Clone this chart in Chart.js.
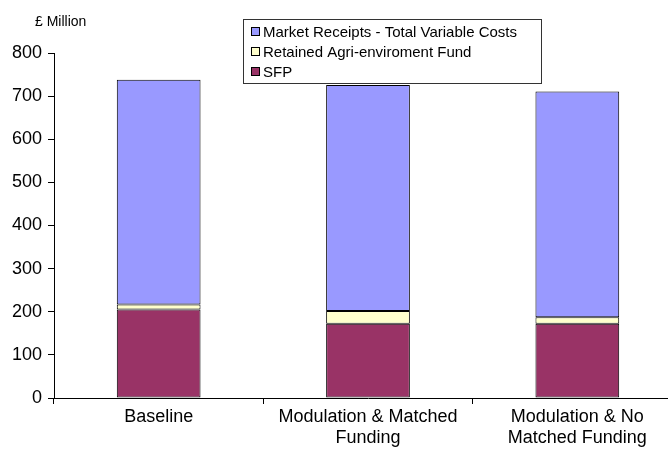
<!DOCTYPE html>
<html>
<head>
<meta charset="utf-8">
<script src="https://cdn.jsdelivr.net/npm/chart.js@4.4.0/dist/chart.umd.min.js"></script>
<style>
    html, body { margin: 0; padding: 0; background: #fff; overflow: hidden; }
    #wrap { position: relative; width: 682px; height: 455px; }
</style>
</head>
<body>
<div id="wrap"><canvas id="myChart" width="682" height="455"></canvas></div>
<script>
const categories = ['Baseline', ['Modulation & Matched', 'Funding'], ['Modulation & No', 'Matched Funding']];
const sfp = [205, 172, 172];
const retainedFund = [12, 30, 15];
const marketReceipts = [521, 524, 524];
const yTicks = [0, 100, 200, 300, 400, 500, 600, 700, 800];

const FONT = "'Liberation Sans', Arial, sans-serif";

// legend box drawn over the plot, like the original
const boxLegend = {
    id: 'boxLegend',
    afterDraw(chart) {
        const ctx = chart.ctx;
        const x = 243.5, y = 19.5, w = 298, h = 64;
        ctx.save();
        ctx.fillStyle = '#fff';
        ctx.fillRect(x, y, w, h);
        ctx.strokeStyle = '#333';
        ctx.lineWidth = 1;
        ctx.strokeRect(x, y, w, h);
        ctx.font = '15px ' + FONT;
        ctx.textBaseline = 'middle';
        const items = chart.data.datasets.slice().reverse();
        items.forEach((ds, i) => {
            const cy = 32 + i * 20;
            ctx.fillStyle = ds.backgroundColor;
            ctx.fillRect(251.5, cy - 4.5, 8, 8);
            ctx.strokeStyle = '#000';
            ctx.strokeRect(251.5, cy - 4.5, 8, 8);
            ctx.fillStyle = '#000';
            ctx.fillText(ds.label, 263, cy + 1);
        });
        ctx.font = '14px ' + FONT;
        ctx.fillText('£ Million', 35, 22);
        ctx.restore();
    }
};

new Chart(document.getElementById('myChart'), {
    type: 'bar',
    data: {
        labels: categories,
        datasets: [
            { label: 'SFP', data: sfp, backgroundColor: '#993366' },
            { label: 'Retained Agri-enviroment Fund', data: retainedFund, backgroundColor: '#FFFFCC' },
            { label: 'Market Receipts - Total Variable Costs', data: marketReceipts, backgroundColor: '#9999FF' }
        ].map(d => Object.assign(d, {
            borderColor: '#000',
            borderWidth: 1,
            borderSkipped: false,
            categoryPercentage: 1,
            barPercentage: 0.4
        }))
    },
    options: {
        responsive: false,
        animation: false,
        layout: { padding: { left: 0, right: 0, top: 53, bottom: 0 } },
        plugins: {
            legend: { display: false },
            tooltip: { enabled: false }
        },
        scales: {
            x: {
                stacked: true,
                grid: { display: true, offset: true, drawOnChartArea: false, color: '#000', tickLength: 6 },
                border: { color: '#000', width: 1 },
                ticks: { color: '#000', font: { family: FONT, size: 18, lineHeight: 1.2 }, padding: 2, maxRotation: 0 },
                afterFit(scale) { scale.height = 57; }
            },
            y: {
                stacked: true,
                min: 0,
                max: 800,
                afterBuildTicks(scale) { scale.ticks = yTicks.map(v => ({ value: v })); },
                grid: { display: true, drawOnChartArea: false, color: '#000', tickLength: 6 },
                border: { color: '#000', width: 1 },
                ticks: { color: '#000', font: { family: FONT, size: 18 }, padding: 6 },
                afterFit(scale) { scale.width = 54; }
            }
        }
    },
    plugins: [boxLegend]
});
</script>
</body>
</html>
